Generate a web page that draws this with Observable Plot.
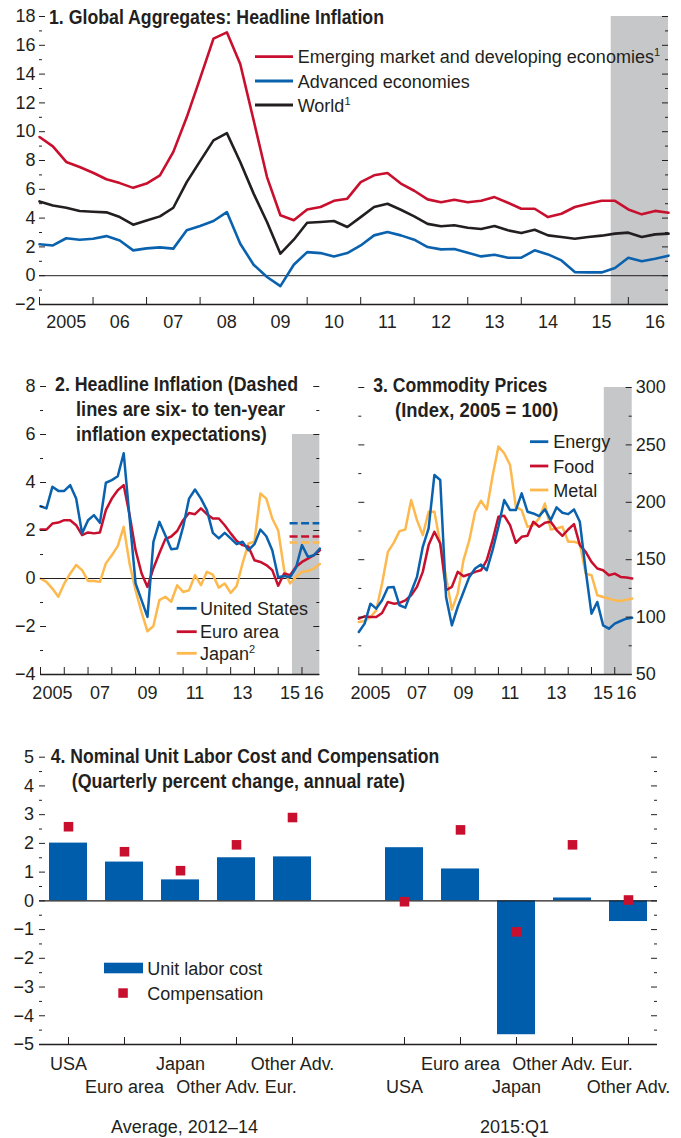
<!DOCTYPE html>
<html>
<head>
<meta charset="utf-8">
<script src="https://cdn.jsdelivr.net/npm/d3@7"></script>
<script src="https://cdn.jsdelivr.net/npm/@observablehq/plot@0.6"></script>
<style>
html,body{margin:0;padding:0;background:#fff;}
#root{position:relative;width:681px;height:1138px;overflow:hidden;background:#fff;}
.panel{position:absolute;}
#overlay{position:absolute;left:0;top:0;pointer-events:none;}
</style>
</head>
<body>
<div id="root">
  <div class="panel" id="p1" style="left:0;top:0"></div>
  <div class="panel" id="p2" style="left:0;top:360px"></div>
  <div class="panel" id="p3" style="left:340px;top:360px"></div>
  <div class="panel" id="p4" style="left:0;top:740px"></div>
</div>
<script>
// ---------- DATA ----------
// quarterly dates 2005Q1 ... 2016Q4
const years = [2005, 2006, 2007, 2008, 2009, 2010, 2011, 2012, 2013, 2014, 2015, 2016];
const quarters = [];
years.forEach(y => [0, 0.25, 0.5, 0.75].forEach(q => quarters.push(y + q)));

// Panel 1: Global aggregates, headline inflation (percent)
const emde = [9.63, 8.98, 7.9, 7.55, 7.15, 6.7, 6.43, 6.1, 6.4, 6.97, 8.6, 11.0, 13.7, 16.46, 16.9, 14.7, 10.8, 6.85, 4.2, 3.85, 4.6, 4.77, 5.2, 5.35, 6.5, 6.97, 7.13, 6.4, 5.9, 5.3, 5.1, 5.28, 5.1, 5.2, 5.46, 5.07, 4.65, 4.65, 4.07, 4.3, 4.77, 5.0, 5.2, 5.2, 4.6, 4.26, 4.5, 4.37];
const advanced = [2.18, 2.1, 2.6, 2.5, 2.57, 2.75, 2.45, 1.76, 1.9, 1.97, 1.88, 3.15, 3.45, 3.8, 4.42, 2.22, 0.76, -0.09, -0.72, 0.76, 1.64, 1.57, 1.34, 1.57, 2.1, 2.8, 3.03, 2.8, 2.5, 1.99, 1.83, 1.85, 1.6, 1.34, 1.46, 1.25, 1.25, 1.76, 1.48, 1.06, 0.25, 0.23, 0.23, 0.53, 1.25, 1.0, 1.18, 1.39];
const world = [5.16, 4.88, 4.72, 4.49, 4.44, 4.4, 4.07, 3.54, 3.84, 4.12, 4.72, 6.5, 7.96, 9.4, 9.9, 7.9, 5.7, 3.73, 1.53, 2.5, 3.68, 3.73, 3.8, 3.38, 4.07, 4.77, 5.0, 4.58, 4.12, 3.6, 3.43, 3.5, 3.33, 3.24, 3.45, 3.15, 2.96, 3.19, 2.8, 2.69, 2.57, 2.69, 2.78, 2.92, 2.99, 2.69, 2.87, 2.92];
const p1Shade = [{x1: 2015.68, x2: 2016.75, y1: -2, y2: 18}];
const p1YMajor = [-2, 0, 2, 4, 6, 8, 10, 12, 14, 16, 18];
const p1YMinor = [-1, 1, 3, 5, 7, 9, 11, 13, 15, 17];
const p1XLabels = ["2005", "06", "07", "08", "09", "10", "11", "12", "13", "14", "15", "16"];

// Panel 2: Headline inflation (percent)
const unitedStates = [3.01, 2.92, 3.82, 3.65, 3.65, 3.89, 3.33, 1.88, 2.43, 2.64, 2.32, 3.99, 4.1, 4.26, 5.22, 2.5, -0.2, -0.9, -1.6, 1.53, 2.36, 1.8, 1.22, 1.25, 2.15, 3.33, 3.71, 3.33, 2.85, 1.9, 1.67, 1.9, 1.67, 1.43, 1.53, 1.18, 1.43, 2.04, 1.76, 1.18, 0.05, 0.1, 0.05, 0.45, 1.39, 0.9, 0.97, 1.25];
const euroArea = [2.04, 2.04, 2.29, 2.33, 2.43, 2.43, 2.22, 1.81, 1.92, 1.88, 1.92, 2.85, 3.33, 3.68, 3.89, 2.64, 1.18, 0.22, -0.35, 0.43, 1.05, 1.64, 1.75, 1.98, 2.43, 2.73, 2.68, 2.92, 2.68, 2.5, 2.5, 2.22, 1.88, 1.57, 1.39, 1.32, 0.76, 0.69, 0.56, 0.35, -0.3, 0.21, 0.14, 0.49, 0.69, 0.83, 0.97, 1.18];
const japan = [0, -0.14, -0.42, -0.76, -0.21, 0.21, 0.56, 0.35, -0.1, -0.1, -0.14, 0.63, 0.97, 1.35, 2.15, 0.6, -0.5, -1.4, -2.2, -1.98, -0.9, -0.76, -0.97, -0.28, -0.56, -0.49, 0.14, -0.28, 0.28, 0.16, -0.38, -0.21, -0.6, -0.32, 0.63, 1.46, 1.53, 3.54, 3.33, 2.5, 2.0, 0.35, -0.21, 0.07, 0.28, 0.31, 0.42, 0.6];
const expectations = [
  {series: "United States", value: 2.3},
  {series: "Euro area", value: 1.75},
  {series: "Japan", value: 1.5}
];
const expectPeriod = [2015.5, 2016.75];
const p2Shade = [{x1: 2015.6, x2: 2016.75, y1: -4, y2: 6}];
const p2YMajor = [-4, -2, 0, 2, 4, 6, 8];
const p2YMinor = [-3, -1, 1, 3, 5, 7];
const p23TickYears = [2005, 2007, 2009, 2011, 2013, 2015, 2016];
const p23TickLabels = ["2005", "07", "09", "11", "13", "15", "16"];

// Panel 3: Commodity prices (index, 2005 = 100)
const energy = [87, 94.3, 111.7, 107.4, 114.6, 125.7, 126.3, 110.3, 108.2, 121.9, 135, 161.2, 177.2, 223.8, 219.4, 117.5, 92.8, 108.8, 121.9, 135, 142.3, 145.8, 140.8, 158.3, 178.7, 202, 193.2, 193.2, 207.8, 191.8, 190.3, 188, 193.8, 184.5, 195.6, 190.9, 189.7, 193.8, 183, 140.8, 103, 113.2, 92.8, 89.9, 94.3, 96.6, 98.6, 99.5];
const food = [98.6, 100.7, 100.1, 100.1, 103.6, 113.2, 111.7, 112.3, 114.6, 119, 126.3, 139.4, 162.7, 174.3, 164.1, 123.4, 126.3, 139.4, 135.6, 137.3, 139.4, 140.8, 149.6, 167, 187.4, 188.3, 180.1, 164.7, 169.9, 170.8, 183, 178.7, 182.2, 183, 175.8, 170.8, 176.3, 181, 162.7, 156.8, 148.1, 142.3, 140.8, 136.5, 137.9, 135, 134.4, 133.6];
const metal = [95.7, 96.6, 100.1, 105.9, 129.2, 156.8, 164.7, 174.9, 176.3, 202, 184.5, 171.4, 191.8, 191.8, 164.1, 135, 106.5, 120.5, 149.6, 167, 191.8, 201.4, 193.8, 222.9, 248.5, 242.7, 232.5, 196.1, 193.2, 178.7, 180.1, 186, 199, 176.3, 177.2, 178.7, 165.6, 165.6, 164.1, 137.9, 136.5, 119, 117.5, 116.1, 114.6, 114, 115.2, 116.1];
const p3Shade = [{x1: 2015.55, x2: 2016.75, y1: 50, y2: 300}];
const p3YMajor = [50, 100, 150, 200, 250, 300];
const p3YMinor = [75, 125, 175, 225, 275];

// Panel 4: Nominal unit labor cost and compensation
const p4Countries = ["USA", "Euro area", "Japan", "Other Adv. Eur.", "Other Adv."];
const p4Groups = ["Average, 2012–14", "2015:Q1"];
const ulcAvg = [2.01, 1.35, 0.73, 1.5, 1.53];
const compAvg = [2.58, 1.71, 1.05, 1.95, 2.9];
const ulcQ1 = [1.85, 1.11, -4.66, 0.1, -0.72];
const compQ1 = [-0.03, 2.47, -1.08, 1.95, 0.03];
const p4YMajor = [-5, -4, -3, -2, -1, 0, 1, 2, 3, 4, 5];
const p4YMinor = [-4.5, -3.5, -2.5, -1.5, -0.5, 0.5, 1.5, 2.5, 3.5, 4.5];

// ---------- STYLE ----------
const INK = "#231f20";
const RED = "#c8102e";
const BLUE = "#0a62ae";
const BAR = "#005dab";
const YELLOW = "#fdb94e";
const GRAY = "#c6c7c9";
const FONT = '"Liberation Sans", Arial, Helvetica, sans-serif';
const TFONT = '"Liberation Sans Narrow", "Arial Narrow", "Liberation Sans", sans-serif';
const STYLE = {fontFamily: FONT, fontSize: "18px", color: INK, background: "transparent", overflow: "visible"};

function frameTicks({pw, ph, yMajor, yMinor, xTicks, major = 6, minor = 3, bottom = 7}) {
  const s = {stroke: INK, strokeWidth: 1};
  return [
    Plot.tickY(yMajor, {y: d => d, insetRight: pw - major, ...s}),
    Plot.tickY(yMinor, {y: d => d, insetRight: pw - minor, ...s}),
    Plot.tickY(yMajor, {y: d => d, insetLeft: pw - major, ...s}),
    Plot.tickY(yMinor, {y: d => d, insetLeft: pw - minor, ...s}),
    Plot.tickX(xTicks, {x: d => d, insetTop: ph - bottom, ...s})
  ];
}
const series = arr => quarters.map((q, i) => ({q, v: arr[i]}));
const fmtNum = d => d < 0 ? "\u2212" + Math.abs(d) : String(d);

// ---------- PANEL 1 ----------
{
  const W = 681, H = 340, mL = 39, mR = 13, mT = 16, mB = 36;
  const pw = W - mL - mR, ph = H - mT - mB;
  const plot = Plot.plot({
    width: W, height: H, marginLeft: mL, marginRight: mR, marginTop: mT, marginBottom: mB,
    x: {domain: [2005, 2016.75], axis: null},
    y: {domain: [-2, 18], axis: null},
    style: STYLE,
    marks: [
      Plot.rect(p1Shade, {x1: "x1", x2: "x2", y1: "y1", y2: "y2", fill: GRAY}),
      Plot.ruleY([0], {stroke: INK, strokeWidth: 1}),
      Plot.line(series(emde), {x: "q", y: "v", stroke: RED, strokeWidth: 2.6}),
      Plot.line(series(advanced), {x: "q", y: "v", stroke: BLUE, strokeWidth: 2.6}),
      Plot.line(series(world), {x: "q", y: "v", stroke: INK, strokeWidth: 2.6}),
      ...frameTicks({pw, ph, yMajor: p1YMajor, yMinor: p1YMinor, xTicks: years}),
      Plot.ruleY([-2], {stroke: INK, strokeWidth: 1.4}),
      Plot.axisY({ticks: p1YMajor, tickSize: 0, tickPadding: 4, fontSize: 18, label: null, tickFormat: fmtNum}),
      Plot.axisX({ticks: years.map(y => y + 0.5), tickSize: 0, tickPadding: 11, fontSize: 18, label: null,
        tickFormat: d => p1XLabels[years.indexOf(Math.round(d - 0.5))]})
    ]
  });
  document.getElementById("p1").appendChild(plot);
}

// ---------- PANEL 2 ----------
{
  const W = 335, H = 345, mL = 40, mR = 15.7, mT = 26, mB = 31;
  const pw = W - mL - mR, ph = H - mT - mB;
  const colors = {"United States": BLUE, "Euro area": RED, "Japan": YELLOW};
  const plot = Plot.plot({
    width: W, height: H, marginLeft: mL, marginRight: mR, marginTop: mT, marginBottom: mB,
    x: {domain: [2005, 2016.75], axis: null},
    y: {domain: [-4, 8], axis: null},
    style: STYLE,
    marks: [
      Plot.rect(p2Shade, {x1: "x1", x2: "x2", y1: "y1", y2: "y2", fill: GRAY}),
      Plot.ruleY([0], {stroke: INK, strokeWidth: 1}),
      Plot.line(series(japan), {x: "q", y: "v", stroke: YELLOW, strokeWidth: 2.5}),
      Plot.line(series(euroArea), {x: "q", y: "v", stroke: RED, strokeWidth: 2.5}),
      Plot.line(series(unitedStates), {x: "q", y: "v", stroke: BLUE, strokeWidth: 2.5}),
      Plot.ruleY(expectations, {y: "value", x1: expectPeriod[0], x2: expectPeriod[1],
        stroke: d => colors[d.series], strokeWidth: 2.5, strokeDasharray: "8,3.5"}),
      ...frameTicks({pw, ph, yMajor: p2YMajor, yMinor: p2YMinor, xTicks: years}),
      Plot.ruleY([-4], {stroke: INK, strokeWidth: 1.4}),
      Plot.axisY({ticks: p2YMajor, tickSize: 0, tickPadding: 5, fontSize: 18, label: null, tickFormat: fmtNum}),
      Plot.axisX({ticks: p23TickYears.map(y => y + 0.5), tickSize: 0, tickPadding: 12, fontSize: 18, label: null,
        tickFormat: d => p23TickLabels[p23TickYears.indexOf(Math.round(d - 0.5))]})
    ]
  });
  document.getElementById("p2").appendChild(plot);
}

// ---------- PANEL 3 ----------
{
  const W = 341, H = 345, mL = 18.3, mR = 49.3, mT = 27, mB = 31;
  const pw = W - mL - mR, ph = H - mT - mB;
  const plot = Plot.plot({
    width: W, height: H, marginLeft: mL, marginRight: mR, marginTop: mT, marginBottom: mB,
    x: {domain: [2005, 2016.75], axis: null},
    y: {domain: [50, 300], axis: null},
    style: STYLE,
    marks: [
      Plot.rect(p3Shade, {x1: "x1", x2: "x2", y1: "y1", y2: "y2", fill: GRAY}),
      Plot.line(series(metal), {x: "q", y: "v", stroke: YELLOW, strokeWidth: 2.5}),
      Plot.line(series(food), {x: "q", y: "v", stroke: RED, strokeWidth: 2.5}),
      Plot.line(series(energy), {x: "q", y: "v", stroke: BLUE, strokeWidth: 2.5}),
      ...frameTicks({pw, ph, yMajor: p3YMajor, yMinor: p3YMinor, xTicks: years}),
      Plot.ruleY([50], {stroke: INK, strokeWidth: 1.4}),
      Plot.axisY({anchor: "right", ticks: p3YMajor, tickSize: 0, tickPadding: 3.5, fontSize: 18, label: null}),
      Plot.axisX({ticks: p23TickYears.map(y => y + 0.5), tickSize: 0, tickPadding: 12, fontSize: 18, label: null,
        tickFormat: d => p23TickLabels[p23TickYears.indexOf(Math.round(d - 0.5))]})
    ]
  });
  document.getElementById("p3").appendChild(plot);
}

// ---------- PANEL 4 ----------
{
  const W = 681, H = 398, mL = 39, mR = 24, mT = 16.7, mB = 94;
  const pw = W - mL - mR, ph = H - mT - mB;
  const keyA = p4Countries.map(c => "A|" + c);
  const keyQ = p4Countries.map(c => "Q|" + c);
  const domain = [...keyA, "gap", ...keyQ];
  const bars = [...keyA.map((k, i) => ({k, v: ulcAvg[i]})), ...keyQ.map((k, i) => ({k, v: ulcQ1[i]}))];
  const comp = [...keyA.map((k, i) => ({k, v: compAvg[i]})), ...keyQ.map((k, i) => ({k, v: compQ1[i]}))];
  const row1 = [keyA[0], keyA[2], keyA[4], keyQ[1], keyQ[3]];
  const row2 = [keyA[1], keyA[3], keyQ[0], keyQ[2], keyQ[4]];
  const lab = d => d.split("|")[1];
  const plot = Plot.plot({
    width: W, height: H, marginLeft: mL, marginRight: mR, marginTop: mT, marginBottom: mB,
    x: {type: "band", domain, paddingInner: 0.32, paddingOuter: 0.16, axis: null, label: null},
    y: {domain: [-5, 5], axis: null, label: null},
    style: STYLE,
    marks: [
      Plot.barY(bars, {x: "k", y: "v", fill: BAR}),
      Plot.ruleY([0], {stroke: INK, strokeWidth: 1.2}),
      Plot.dot(comp, {x: "k", y: "v", symbol: "square", r: 5.4, fill: RED, stroke: null}),
      ...frameTicks({pw, ph, yMajor: p4YMajor, yMinor: p4YMinor, xTicks: [...keyA, ...keyQ]}),
      Plot.ruleY([-5], {stroke: INK, strokeWidth: 1.4}),
      Plot.axisY({ticks: p4YMajor, tickSize: 0, tickPadding: 5.5, fontSize: 18, label: null, tickFormat: fmtNum}),
      Plot.axisX({ticks: row1, tickSize: 0, tickPadding: 12.7, fontSize: 18, label: null, tickFormat: lab}),
      Plot.axisX({ticks: row2, tickSize: 0, tickPadding: 36, fontSize: 18, label: null, tickFormat: lab}),
      Plot.axisX({ticks: [keyA[2]], tickSize: 0, tickPadding: 76, fontSize: 18, dx: 4, label: null, tickFormat: () => p4Groups[0]}),
      Plot.axisX({ticks: [keyQ[2]], tickSize: 0, tickPadding: 76, fontSize: 18, dx: -2, label: null, tickFormat: () => p4Groups[1]})
    ]
  });
  document.getElementById("p4").appendChild(plot);
}

// ---------- TITLES & LEGENDS (overlay) ----------
const ov = d3.select("#root").append("svg").attr("id", "overlay")
  .attr("width", 681).attr("height", 1138);

function title(txt, x, y, len) {
  ov.append("text").attr("x", x).attr("y", y)
    .attr("textLength", len).attr("lengthAdjust", "spacingAndGlyphs")
    .attr("font-family", TFONT).attr("font-weight", "bold").attr("font-size", 19.5)
    .attr("fill", INK).text(txt);
}
title("1. Global Aggregates: Headline Inflation", 49, 23.5, 335);
title("2. Headline Inflation (Dashed", 55, 391, 243);
title("lines are six- to ten-year", 76, 416, 209);
title("inflation expectations)", 76, 440.5, 190.7);
title("3. Commodity Prices", 373.3, 392, 174);
title("(Index, 2005 = 100)", 395, 416.5, 163.3);
title("4. Nominal Unit Labor Cost and Compensation", 50.7, 762.5, 388.6);
title("(Quarterly percent change, annual rate)", 71.7, 787.5, 333.3);

function legendText(x, y, label, sup) {
  const t = ov.append("text").attr("x", x).attr("y", y + 6.5)
    .attr("font-family", FONT).attr("font-size", 18).attr("fill", INK).text(label);
  if (sup) t.append("tspan").attr("font-size", 11).attr("dy", -7).text(sup);
}
function legendLine(x1, x2, y, color, label, sup, tx) {
  ov.append("line").attr("x1", x1).attr("x2", x2).attr("y1", y).attr("y2", y)
    .attr("stroke", color).attr("stroke-width", 2.8);
  legendText(tx, y, label, sup);
}
legendLine(255, 293, 56.7, RED, "Emerging market and developing economies", "1", 297.7);
legendLine(255, 293, 81, BLUE, "Advanced economies", null, 297.7);
legendLine(255, 293, 105, INK, "World", "1", 297.7);

legendLine(176.7, 196.7, 608.3, BLUE, "United States", null, 200);
legendLine(176.7, 196.7, 631.7, RED, "Euro area", null, 200);
legendLine(176.7, 196.7, 653.3, YELLOW, "Japan", "2", 200);

legendLine(530, 548.3, 441.7, BLUE, "Energy", null, 553.3);
legendLine(530, 548.3, 466, RED, "Food", null, 553.3);
legendLine(530, 548.3, 490, YELLOW, "Metal", null, 553.3);

ov.append("rect").attr("x", 104).attr("y", 962.7).attr("width", 39).attr("height", 10.6).attr("fill", BAR);
legendText(147.3, 968, "Unit labor cost");
ov.append("rect").attr("x", 118.3).attr("y", 988.3).attr("width", 9.5).attr("height", 9.5).attr("fill", RED);
legendText(147.3, 993, "Compensation");
</script>
</body>
</html>
